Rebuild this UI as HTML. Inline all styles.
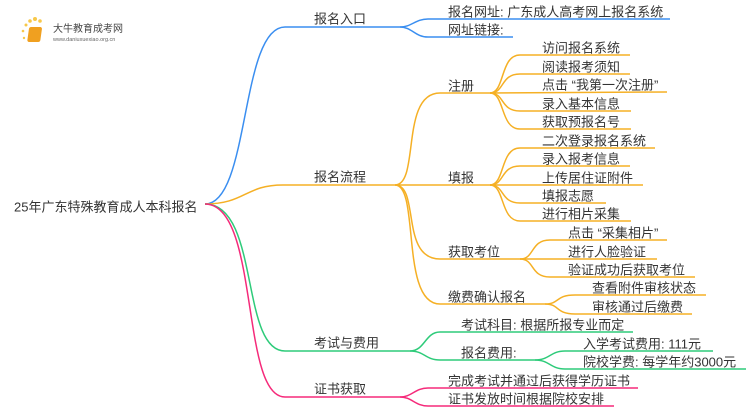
<!DOCTYPE html>
<html><head><meta charset="utf-8"><style>
html,body{margin:0;padding:0;background:#fff;width:750px;height:410px;overflow:hidden}
svg text{font-family:"Liberation Sans","Noto Sans CJK SC",sans-serif;font-size:13px;fill:#333}
</style></head><body>
<svg width="750" height="410" viewBox="0 0 750 410" xmlns="http://www.w3.org/2000/svg">
<g fill="none" stroke-width="1.5">
<g stroke="#3a8ef0">
<path d="M205 204 C250 204,240 27,285 27 L400 27"/>
<path d="M400 27 C412 27,415 19,428 19 L670 19"/>
<path d="M400 27 C412 27,415 37,428 37 L513 37"/>
</g>
<g stroke="#f5b025">
<path d="M205 204 C245 204,245 185,283 185 L395 185"/>
<path d="M395 185 C420 185,400 93,440 93 L490 93"/>
<path d="M395 185 L490 185"/>
<path d="M395 185 C420 185,400 259,440 259 L520 259"/>
<path d="M395 185 C420 185,400 304,440 304 L545 304"/>
<path d="M490 93 C505 93,500 55,520 55 L630 55"/>
<path d="M490 93 C505 93,500 74,520 74 L630 74"/>
<path d="M490 93 L667 92"/>
<path d="M490 93 C505 93,500 111,520 111 L631 111"/>
<path d="M490 93 C505 93,500 129,520 129 L631 129"/>
<path d="M490 185 C505 185,500 148,520 148 L655 148"/>
<path d="M490 185 C505 185,500 166,520 166 L630 166"/>
<path d="M490 185 L643 185"/>
<path d="M490 185 C505 185,500 203,520 203 L606 203"/>
<path d="M490 185 C505 185,500 221,520 221 L631 221"/>
<path d="M520 259 C535 259,530 240,550 240 L667 240"/>
<path d="M520 259 L657 259"/>
<path d="M520 259 C535 259,530 277,550 277 L695 277"/>
<path d="M545 304 C560 304,555 295,575 295 L706 295"/>
<path d="M545 304 C560 304,555 314,575 314 L692 314"/>
</g>
<g stroke="#2ecb7a">
<path d="M205 204 C260 204,240 351,285 351 L410 351"/>
<path d="M410 351 C425 351,425 332,440 332 L633 332"/>
<path d="M410 351 C425 351,425 360,440 360 L535 360"/>
<path d="M535 360 C550 360,550 351,565 351 L713 351"/>
<path d="M535 360 C550 360,550 369,565 369 L746 369"/>
</g>
<g stroke="#f52a7a">
<path d="M205 204 C260 204,240 397,285 397 L400 397"/>
<path d="M400 397 C412 397,415 388,428 388 L638 388"/>
<path d="M400 397 C412 397,415 406,428 406 L614 406"/>
</g>
</g>
<g>
<circle cx="26" cy="25" r="1.5" fill="#f7c84a"/><circle cx="30" cy="21" r="1.8" fill="#f7c84a"/>
<circle cx="35" cy="19" r="2" fill="#f7c84a"/><circle cx="40" cy="21" r="1.8" fill="#f7c84a"/>
<circle cx="23" cy="31" r="1.3" fill="#f7c84a"/><circle cx="24" cy="38" r="1.2" fill="#f7c84a"/>
<rect x="28" y="27" width="13" height="15" rx="2" fill="#f0a020" transform="skewX(-8) translate(5 0)"/>
<text x="53" y="32" style="font-size:10px;fill:#444">大牛教育成考网</text>
<text x="53" y="41" style="font-size:5.5px;fill:#666">www.daniuxuexiao.org.cn</text>
</g>
<g transform="translate(0 1.5)">
<text x="14" y="210">25年广东特殊教育成人本科报名</text>
<text x="314" y="22">报名入口</text>
<text x="314" y="180">报名流程</text>
<text x="314" y="346">考试与费用</text>
<text x="314" y="392">证书获取</text>
<text x="448" y="15">报名网址: 广东成人高考网上报名系统</text>
<text x="448" y="33">网址链接:</text>
<text x="448" y="89">注册</text>
<text x="448" y="181">填报</text>
<text x="448" y="255">获取考位</text>
<text x="448" y="300">缴费确认报名</text>
<text x="542" y="51">访问报名系统</text>
<text x="542" y="70">阅读报考须知</text>
<text x="542" y="88">点击 “我第一次注册”</text>
<text x="542" y="107">录入基本信息</text>
<text x="542" y="125">获取预报名号</text>
<text x="542" y="144">二次登录报名系统</text>
<text x="542" y="162">录入报考信息</text>
<text x="542" y="181">上传居住证附件</text>
<text x="542" y="199">填报志愿</text>
<text x="542" y="217">进行相片采集</text>
<text x="568" y="236">点击 “采集相片”</text>
<text x="568" y="255">进行人脸验证</text>
<text x="568" y="273">验证成功后获取考位</text>
<text x="592" y="291">查看附件审核状态</text>
<text x="592" y="310">审核通过后缴费</text>
<text x="461" y="328">考试科目: 根据所报专业而定</text>
<text x="461" y="356">报名费用:</text>
<text x="583" y="347">入学考试费用: 111元</text>
<text x="583" y="365">院校学费: 每学年约3000元</text>
<text x="448" y="384">完成考试并通过后获得学历证书</text>
<text x="448" y="402">证书发放时间根据院校安排</text>
</g>
</svg>
</body></html>
